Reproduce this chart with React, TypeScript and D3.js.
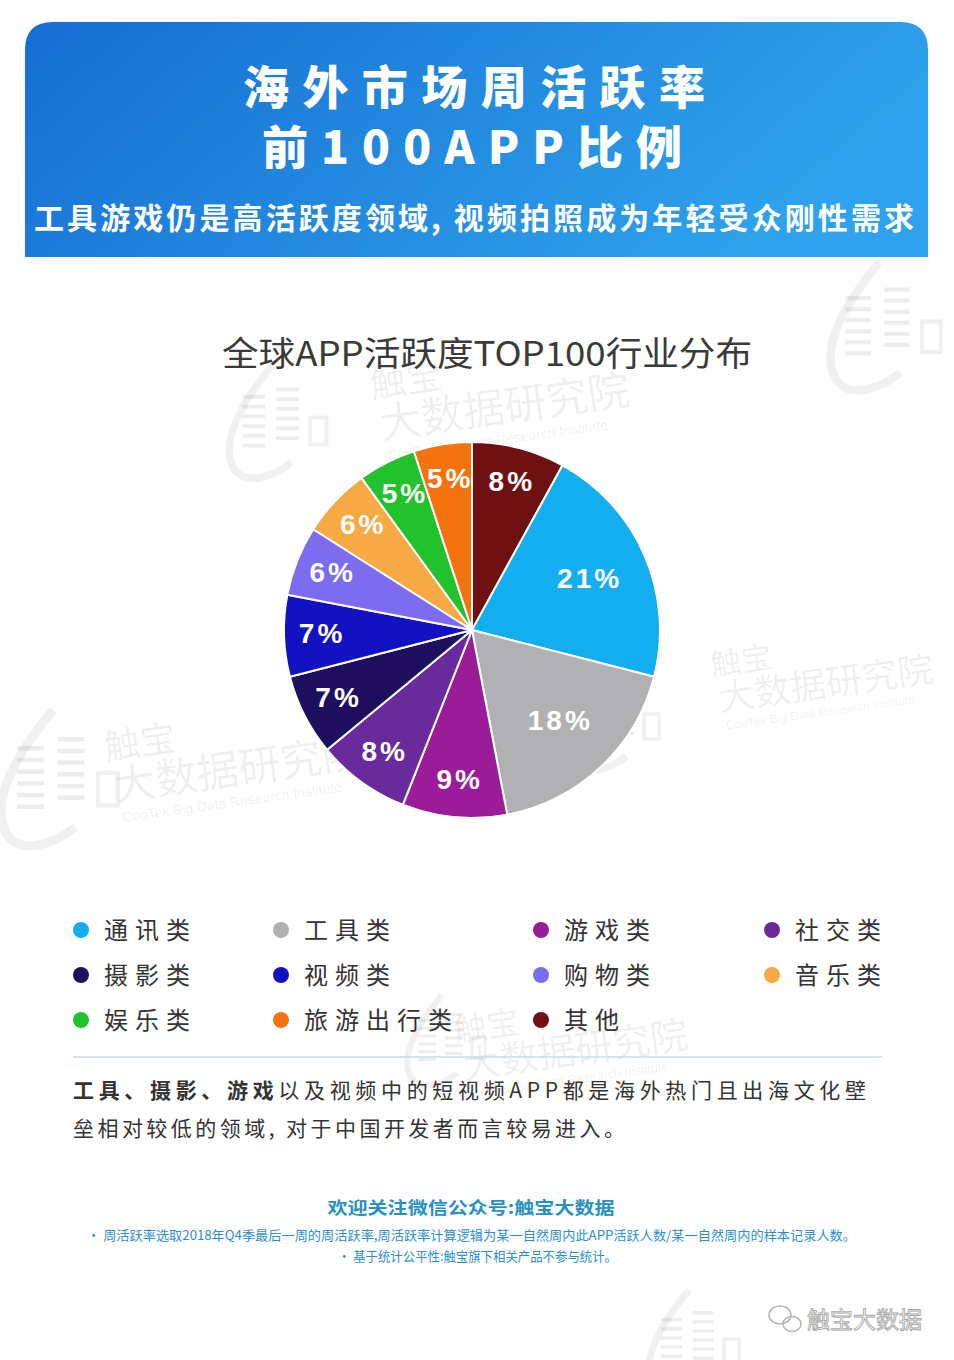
import React, { useRef, useEffect } from 'react';
import * as d3 from 'd3';

// pie slices, clockwise from 12 o'clock
const categories = ['其他', '通讯类', '工具类', '游戏类', '社交类', '摄影类', '视频类', '购物类', '音乐类', '娱乐类', '旅游出行类'];
const shares = [8, 21, 18, 9, 8, 7, 7, 6, 6, 5, 5];
const colors = ['#6f1012', '#12aef0', '#b1b1b3', '#9a1c98', '#692b9c', '#1f105f', '#1212c2', '#7c6cf0', '#f7a944', '#22c22c', '#f5730f'];

// legend reading order (rows of four)
const legendOrder = ['通讯类', '工具类', '游戏类', '社交类', '摄影类', '视频类', '购物类', '音乐类', '娱乐类', '旅游出行类', '其他'];

const titleLines = ['海外市场周活跃率', '前100APP比例'];
const subtitle = '工具游戏仍是高活跃度领域, 视频拍照成为年轻受众刚性需求';
const chartTitle = '全球APP活跃度TOP100行业分布';
const noteBold = '工具、摄影、游戏';
const noteLine1 = '以及视频中的短视频APP都是海外热门且出海文化壁';
const noteLine2 = '垒相对较低的领域, 对于中国开发者而言较易进入。';
const footerTitle = '欢迎关注微信公众号:触宝大数据';
const footerNotes = [
  '• 周活跃率选取2018年Q4季最后一周的周活跃率,周活跃率计算逻辑为某一自然周内此APP活跃人数/某一自然周内的样本记录人数。',
  '• 基于统计公平性:触宝旗下相关产品不参与统计。',
];

const CJK = '"Noto Sans CJK SC", "Noto Sans", sans-serif';

const App = () => {
  const svgRef = useRef<SVGSVGElement>(null);

  useEffect(() => {
    const W = 954, H = 1360;
    const svg = d3.select(svgRef.current);
    svg.selectAll('*').remove();

    // header gradient
    const defs = svg.append('defs');
    const grad = defs.append('linearGradient').attr('id', 'hdr').attr('x1', 0).attr('x2', 1).attr('y1', 0).attr('y2', 0.3);
    grad.append('stop').attr('offset', '0%').attr('stop-color', '#166dd2');
    grad.append('stop').attr('offset', '100%').attr('stop-color', '#2ea2ec');

    svg.append('rect').attr('width', W).attr('height', H).attr('fill', '#ffffff');

    // watermarks
    const wm = svg.append('g').attr('fill', '#000').attr('fill-opacity', 0.07)
      .attr('stroke-opacity', 0.06).style('font-family', CJK);
    const stamp = (x: number, y: number, s = 1) => {
      const g = wm.append('g').attr('transform', `translate(${x},${y}) rotate(-8) scale(${s})`);
      g.append('text').attr('x', 0).attr('y', 0).style('font-size', '36px').text('触宝');
      g.append('text').attr('x', 4).attr('y', 42).style('font-size', '42px').text('大数据研究院');
      g.append('text').attr('x', 8).attr('y', 64).style('font-size', '14px').style('font-family', 'Liberation Sans, sans-serif').text('CooTek Big Data Research Institute');
    };
    const logo = (x: number, y: number, s: number) => {
      const g = wm.append('g').attr('transform', `translate(${x},${y}) scale(${s})`);
      g.append('path').attr('d', 'M70,0 C20,60 0,110 20,140 C35,160 70,150 95,130')
        .attr('fill', 'none').attr('stroke', '#000').attr('stroke-width', 10);
      [0, 1].forEach(c => {
        d3.range(6).forEach(i => {
          g.append('rect').attr('x', 30 + c * 45).attr('y', 40 + i * 13 - c * 10).attr('width', 30).attr('height', 5);
        });
      });
      g.append('rect').attr('x', 120).attr('y', 70).attr('width', 22).attr('height', 36).attr('fill', 'none')
        .attr('stroke', '#000').attr('stroke-width', 5);
    };
    logo(220, 365, 0.75);
    stamp(372, 398);
    logo(820, 262, 0.85);
    logo(-10, 710, 0.9);
    stamp(106, 760);
    logo(560, 665, 0.7);
    stamp(712, 676, 0.86);
    logo(400, 995, 0.6);
    stamp(456, 1042, 0.9);
    logo(640, 1290, 0.7);

    // header
    const hx0 = 25, hx1 = 928, hy0 = 22, hy1 = 257, rr = 28;
    svg.append('path')
      .attr('d', `M${hx0},${hy1} L${hx0},${hy0 + rr} Q${hx0},${hy0} ${hx0 + rr},${hy0} L${hx1 - rr},${hy0} Q${hx1},${hy0} ${hx1},${hy0 + rr} L${hx1},${hy1} Z`)
      .attr('fill', 'url(#hdr)');

    svg.append('text').attr('x', 474).attr('y', 104).attr('text-anchor', 'middle')
      .attr('textLength', 462).attr('lengthAdjust', 'spacing')
      .style('font-family', CJK).style('font-weight', 900).style('font-size', '46px').attr('fill', '#fff')
      .text(titleLines[0]);
    svg.append('text').attr('x', 472).attr('y', 164).attr('text-anchor', 'middle')
      .attr('textLength', 420).attr('lengthAdjust', 'spacing')
      .style('font-family', CJK).style('font-weight', 900).style('font-size', '46px').attr('fill', '#fff')
      .text(titleLines[1]);
    svg.append('text').attr('x', 474).attr('y', 229).attr('text-anchor', 'middle')
      .attr('textLength', 880).attr('lengthAdjust', 'spacing')
      .style('font-family', CJK).style('font-weight', 700).style('font-size', '30px').attr('fill', '#fff')
      .text(subtitle);

    // chart title
    svg.append('text').attr('x', 487).attr('y', 366).attr('text-anchor', 'middle')
      .attr('textLength', 530).attr('lengthAdjust', 'spacingAndGlyphs')
      .style('font-family', CJK).style('font-size', '34px').attr('fill', '#3a3a3a')
      .text(chartTitle);

    // pie
    const cx = 472, cy = 630, R = 188;
    const pie = d3.pie<number>().sort(null).value(d => d);
    const arcs = pie(shares);
    const arc = d3.arc<d3.PieArcDatum<number>>().innerRadius(0).outerRadius(R);
    const pg = svg.append('g').attr('transform', `translate(${cx},${cy})`);
    pg.selectAll('path.slice').data(arcs).enter().append('path')
      .attr('class', 'slice')
      .attr('d', arc)
      .attr('fill', (d, i) => colors[i])
      .attr('stroke', '#fff').attr('stroke-width', 2).attr('stroke-linejoin', 'round');

    pg.selectAll('text.lbl').data(arcs).enter().append('text')
      .attr('class', 'lbl')
      .attr('transform', d => {
        const r = d.data >= 15 ? 126 : 152;
        const [x, y] = d3.arc<d3.PieArcDatum<number>>().innerRadius(r).outerRadius(r).centroid(d);
        return `translate(${x + 2},${y - 2})`;
      })
      .attr('text-anchor', 'middle').attr('dy', '0.36em')
      .style('font-family', '"Liberation Sans", Arial, sans-serif').style('font-weight', 700)
      .style('font-size', '28px').style('letter-spacing', '3px')
      .attr('fill', '#fff')
      .text(d => `${d.data}%`);

    // legend
    const colX = [81, 281, 541, 772];
    const rowY = [930, 975, 1020];
    const lg = svg.append('g');
    legendOrder.forEach((name, i) => {
      const idx = categories.indexOf(name);
      const x = colX[i % 4], y = rowY[Math.floor(i / 4)];
      lg.append('circle').attr('cx', x).attr('cy', y).attr('r', 8).attr('fill', colors[idx]);
      lg.append('text').attr('x', x + 23).attr('y', y + 9)
        .style('font-family', CJK).style('font-size', '24px').style('letter-spacing', '7px')
        .attr('fill', '#333').text(name);
    });

    // separator
    svg.append('line').attr('x1', 73).attr('x2', 882).attr('y1', 1057).attr('y2', 1057)
      .attr('stroke', '#c9dbe7').attr('stroke-width', 1.5);

    // note paragraph
    const n1 = svg.append('text').attr('x', 73).attr('y', 1098)
      .attr('textLength', 793).attr('lengthAdjust', 'spacing')
      .style('font-family', CJK).style('font-size', '21px').attr('fill', '#333');
    n1.append('tspan').style('font-weight', 700).text(noteBold);
    n1.append('tspan').text(noteLine1);
    svg.append('text').attr('x', 73).attr('y', 1136)
      .attr('textLength', 552).attr('lengthAdjust', 'spacing')
      .style('font-family', CJK).style('font-size', '21px').attr('fill', '#333')
      .text(noteLine2);

    // footer
    svg.append('text').attr('x', 471).attr('y', 1214).attr('text-anchor', 'middle')
      .attr('textLength', 287).attr('lengthAdjust', 'spacingAndGlyphs')
      .style('font-family', CJK).style('font-weight', 700).style('font-size', '17px').attr('fill', '#2790c4')
      .text(footerTitle);
    svg.append('text').attr('x', 87).attr('y', 1240)
      .attr('textLength', 769).attr('lengthAdjust', 'spacingAndGlyphs')
      .style('font-family', CJK).style('font-size', '13px').attr('fill', '#2b8fd0')
      .text(footerNotes[0]);
    svg.append('text').attr('x', 338).attr('y', 1261)
      .attr('textLength', 279).attr('lengthAdjust', 'spacingAndGlyphs')
      .style('font-family', CJK).style('font-size', '13px').attr('fill', '#2b8fd0')
      .text(footerNotes[1]);

    // wechat mark
    const wc = svg.append('g').attr('fill', 'none').attr('stroke', '#b5b5b5').attr('stroke-width', 1.5);
    wc.append('ellipse').attr('cx', 780).attr('cy', 1315).attr('rx', 11).attr('ry', 9);
    wc.append('ellipse').attr('cx', 792).attr('cy', 1324).attr('rx', 9).attr('ry', 7.5);
    svg.append('text').attr('x', 807).attr('y', 1328)
      .style('font-family', CJK).style('font-size', '23px').attr('fill', '#fff')
      .attr('stroke', '#a8a8a8').attr('stroke-width', 0.9)
      .text('触宝大数据');
  }, []);

  return (
    <div style={{ position: 'absolute', left: 0, top: 0 }}>
      <svg ref={svgRef} width={954} height={1360} style={{ display: 'block' }}></svg>
    </div>
  );
};

export default App;
